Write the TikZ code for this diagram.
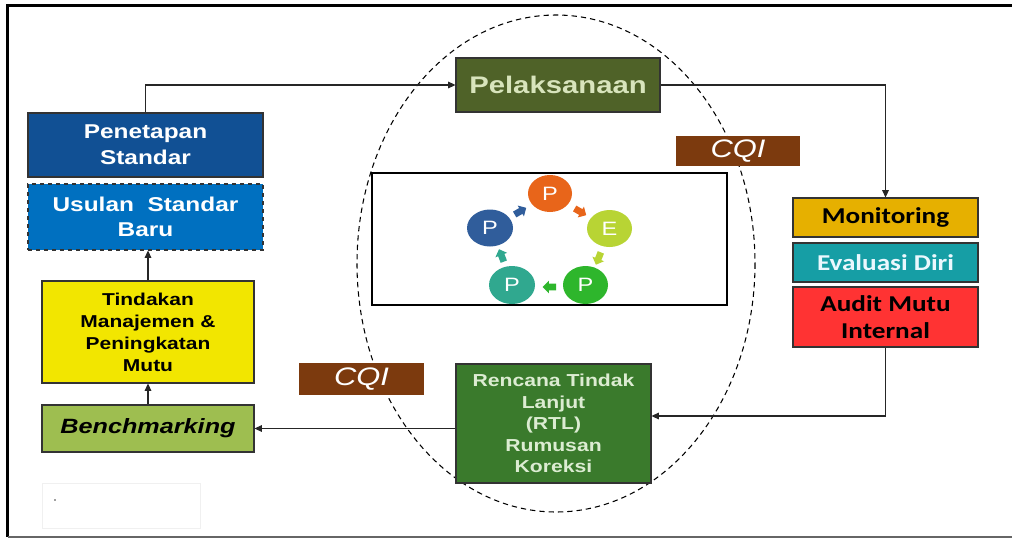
\documentclass[tikz,border=0pt]{standalone}
\usepackage{fontspec}
\setmainfont{Liberation Sans}
\newfontfamily\arw[FakeStretch=1.22]{Liberation Sans}
\newfontfamily\calw[FakeStretch=1.2]{Carlito}
\usetikzlibrary{arrows.meta,shapes.arrows,shapes.geometric,calc}
\definecolor{pelC}{RGB}{79,98,40}
\definecolor{pelT}{RGB}{216,228,188}
\definecolor{penC}{RGB}{17,80,148}
\definecolor{usuC}{RGB}{0,112,192}
\definecolor{tinC}{RGB}{242,230,0}
\definecolor{benC}{RGB}{158,190,80}
\definecolor{rtlC}{RGB}{58,122,44}
\definecolor{rtlT}{RGB}{220,236,210}
\definecolor{cqiC}{RGB}{124,58,14}
\definecolor{monC}{RGB}{230,176,0}
\definecolor{evaC}{RGB}{22,158,165}
\definecolor{audC}{RGB}{255,51,51}
\definecolor{cOr}{RGB}{232,101,26}
\definecolor{cLi}{RGB}{184,212,52}
\definecolor{cGr}{RGB}{46,182,44}
\definecolor{cTe}{RGB}{48,168,143}
\definecolor{cBl}{RGB}{48,93,155}
\def\u{0.75pt}
\tikzset{
  box/.style={draw=black!80, line width=0.8pt, inner sep=0pt, align=center},
  arr/.style={draw=black!85, line width=0.8pt, -{Triangle[length=5.5pt,width=5pt]}},
  cyc/.style={ellipse, inner sep=0pt, text=white, font={\arw\fontsize{14.5}{16}\selectfont}},
  sarr/.style={single arrow, inner sep=2.3pt, minimum height=10pt, single arrow head extend=2.2pt, single arrow head indent=0pt},
}
\begin{document}
\begin{tikzpicture}[x=0.75pt,y=-0.75pt]
\useasboundingbox (0,0) rectangle (1012,542);
\fill[white] (0,0) rectangle (1012,542);
% frame
\draw[line width=2.2pt] (1012,5.5) -- (7.5,5.5) -- (7.5,537);
\draw[black!60, line width=0.8pt] (7.5,537) -- (1012,537);
% dashed ellipse
\draw[line width=0.8pt, dash pattern=on 4pt off 3pt] (556,263.5) ellipse [x radius=199, y radius=248.5];

% nodes
\node[box, fill=pelC, text=pelT, minimum width=204*\u, minimum height=54*\u,
  font={\arw\bfseries\fontsize{18}{20}\selectfont}] (pel) at (558,85) {Pelaksanaan};
\node[box, fill=penC, text=white, minimum width=235*\u, minimum height=64*\u,
  font={\arw\bfseries\fontsize{15}{19.5}\selectfont}] (pen) at (145.5,145) {Penetapan\\Standar};
\node[box, fill=usuC, text=white, dashed, minimum width=235*\u, minimum height=66*\u,
  font={\arw\bfseries\fontsize{15}{18.75}\selectfont}] (usu) at (145.5,217) {Usulan\ \ Standar\\Baru};
\node[box, fill=tinC, text=black, minimum width=212*\u, minimum height=102*\u,
  font={\arw\bfseries\fontsize{12.9}{16.5}\selectfont}] (tin) at (148,332) {Tindakan\\Manajemen \&\\Peningkatan\\Mutu};
\node[box, fill=benC, text=black, minimum width=212*\u, minimum height=47*\u,
  font={\arw\bfseries\itshape\fontsize{15.5}{18}\selectfont}] (ben) at (148,428.5) {Benchmarking};
\node[box, fill=rtlC, text=rtlT, minimum width=195*\u, minimum height=119*\u,
  font={\arw\bfseries\fontsize{13}{16.1}\selectfont}] (rtl) at (553.5,423.5) {Rencana Tindak\\Lanjut\\(RTL)\\Rumusan\\Koreksi};
\node[fill=cqiC, text=white, inner sep=0pt, minimum width=124*\u, minimum height=30*\u,
  font={\arw\itshape\fontsize{19}{20}\selectfont}] (cqa) at (738,151) {CQI};
\node[fill=cqiC, text=white, inner sep=0pt, minimum width=125*\u, minimum height=32*\u,
  font={\arw\itshape\fontsize{19}{20}\selectfont}] (cqb) at (361.5,379) {CQI};
\node[box, fill=monC, text=black, minimum width=185*\u, minimum height=39*\u,
  font={\calw\bfseries\fontsize{17}{19}\selectfont}] (mon) at (885.5,217.5) {Monitoring};
\node[box, fill=evaC, text=white!92!cyan, minimum width=185*\u, minimum height=39*\u,
  font={\calw\bfseries\fontsize{17}{19}\selectfont}] (eva) at (885.5,262.5) {Evaluasi Diri};
\node[box, fill=audC, text=black, minimum width=185*\u, minimum height=60*\u,
  font={\calw\bfseries\fontsize{17}{20}\selectfont}] (aud) at (885.5,317) {Audit Mutu\\Internal};

% cycle panel
\node[draw=black, fill=white, line width=1pt, minimum width=355*\u, minimum height=132*\u, inner sep=0pt] (pan) at (549.5,239) {};
\node[cyc, fill=cOr, minimum width=44*\u, minimum height=37*\u] (c1) at (550,193.5) {P};
\node[cyc, fill=cLi, minimum width=45*\u, minimum height=37*\u] (c2) at (609.5,228.5) {E};
\node[cyc, fill=cGr, minimum width=45*\u, minimum height=38*\u] (c3) at (585.5,285) {P};
\node[cyc, fill=cTe, minimum width=46*\u, minimum height=38*\u] (c4) at (512,285) {P};
\node[cyc, fill=cBl, minimum width=46*\u, minimum height=37*\u] (c5) at (490,228) {P};
\node[sarr, fill=cOr, rotate=-30] (a1) at (579,211) {};
\node[sarr, fill=cLi, rotate=-112] (a2) at (599,257) {};
\node[sarr, fill=cGr, rotate=180] (a3) at (551,287) {};
\node[sarr, fill=cTe, rotate=111] (a4) at (502,257) {};
\node[sarr, fill=cBl, rotate=30] (a5) at (519,212) {};

% faint empty box
\node[draw=black!6, minimum width=158*\u, minimum height=45*\u, inner sep=0pt] (fb) at (121,505.5) {};
\fill[black!75] (55,500) circle (0.7pt);

% connectors
\draw[arr] (pen.north) |- (pel.west);
\draw[arr] (pel.east) -| (mon.north);
\draw[arr] (aud.south) |- ($(rtl.east)+(0,-7.5)$);
\draw[arr] (rtl.west |- ben.east) -- (ben.east);
\draw[arr] (ben.north) -- (tin.south);
\draw[arr] (tin.north) -- (tin.north |- usu.south);
\end{tikzpicture}
\end{document}
